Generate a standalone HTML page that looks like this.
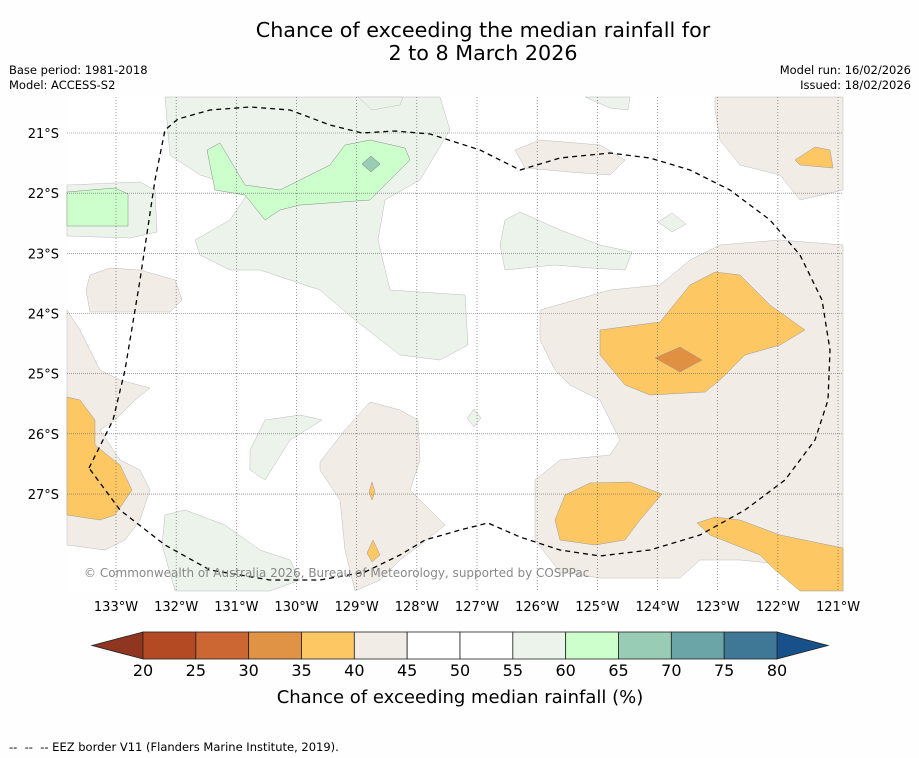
<!DOCTYPE html>
<html><head><meta charset="utf-8">
<style>
html,body{margin:0;padding:0;background:#fdfefd;}
body{width:919px;height:758px;position:relative;overflow:hidden;font-family:"DejaVu Sans","Liberation Sans",sans-serif;}
.t{position:absolute;color:#000;}
</style></head>
<body>
<div class="t" style="left:0;width:966px;top:19px;text-align:center;font-size:20.7px;line-height:23px;">Chance of exceeding the median rainfall for<br>2 to 8 March 2026</div>
<div class="t" style="left:9px;top:63px;font-size:11.5px;line-height:15px;">Base period: 1981-2018<br>Model: ACCESS-S2</div>
<div class="t" style="right:8px;top:63px;font-size:11.5px;line-height:15px;text-align:right;">Model run: 16/02/2026<br>Issued: 18/02/2026</div>
<div class="t" style="left:9px;top:740px;font-size:11.5px;">--&nbsp; --&nbsp; -- EEZ border V11 (Flanders Marine Institute, 2019).</div>

<svg width="919" height="758" style="position:absolute;left:0;top:0" xmlns="http://www.w3.org/2000/svg" font-family="DejaVu Sans, sans-serif">
<g>
<rect x="67" y="97" width="776" height="494" fill="#ffffff"/>
<g fill="#f2ece7" stroke="#bbb" stroke-width="0.5">
<path d="M540,310 L575,300 L610,290 L660,285 L690,260 L720,245 L780,240 L843,245 L843,591 L810,580 L790,565 L740,560 L700,560 L680,578 L600,578 L560,572 L535,540 L535,480 L560,460 L610,455 L620,440 L600,400 L570,385 L555,370 L540,340 Z"/>
<path d="M715,97 L843,97 L843,190 L800,200 L780,175 L740,165 L720,140 L715,110 Z"/>
<path d="M515,150 L540,140 L600,145 L625,160 L610,175 L570,172 L525,168 Z"/>
<path d="M90,275 L110,268 L140,270 L175,280 L182,300 L170,312 L90,312 L86,290 Z"/>
<path d="M67,310 L80,330 L100,370 L120,380 L150,388 L135,400 L115,420 L100,430 L120,460 L140,470 L150,490 L140,520 L125,540 L105,550 L67,545 Z"/>
<path d="M320,462 L345,430 L370,402 L400,410 L418,420 L420,460 L410,490 L430,510 L445,525 L420,545 L400,560 L380,580 L355,591 L345,550 L340,500 L320,470 Z"/>
</g>
<g fill="#ebf3eb" stroke="#bbb" stroke-width="0.5">
<path d="M165,97 L440,97 L450,130 L420,180 L385,200 L378,240 L390,290 L465,295 L468,345 L440,360 L400,355 L355,320 L320,290 L290,280 L260,270 L230,270 L200,255 L195,240 L230,220 L250,190 L200,175 L170,155 Z"/>
<path d="M67,185 L140,182 L155,190 L157,232 L130,238 L67,236 Z"/>
<path d="M505,220 L520,212 L560,230 L600,245 L632,252 L625,270 L590,268 L555,265 L505,270 L500,245 Z"/>
<path d="M658,222 L672,213 L686,224 L672,232 Z"/>
<path d="M250,450 L265,420 L300,415 L322,420 L290,440 L265,480 L250,470 Z"/>
<path d="M165,515 L185,510 L225,525 L260,550 L290,560 L300,580 L270,591 L175,591 L162,545 Z"/>
<path d="M358,97 L403,97 L400,105 L372,110 Z"/>
<path d="M585,97 L630,97 L628,110 L610,108 Z"/>
<path d="M467,418 L474,409 L481,418 L474,427 Z"/>
</g>
<g fill="#ccffcc" stroke="#888" stroke-width="0.5">
<path d="M207,150 L220,143 L245,185 L280,190 L330,165 L345,145 L370,140 L405,148 L410,160 L370,200 L300,205 L280,210 L265,220 L245,195 L215,190 Z"/>
<path d="M67,192 L115,188 L128,194 L128,226 L67,226 Z"/>
</g>
<path d="M362,164 L371,156 L380,164 L371,172 Z" fill="#99ccb4" stroke="#777" stroke-width="0.5"/>
<g fill="#fdc864" stroke="#999" stroke-width="0.5">
<path d="M600,330 L660,322 L690,285 L715,272 L740,275 L770,305 L805,330 L780,345 L745,355 L720,380 L705,392 L650,395 L625,385 L600,355 Z"/>
<path d="M795,160 L815,147 L830,150 L833,168 L800,165 Z"/>
<path d="M67,397 L80,400 L95,420 L95,445 L120,465 L132,490 L115,515 L100,520 L67,515 Z"/>
<path d="M565,495 L590,483 L630,482 L662,494 L640,520 L625,540 L595,545 L560,540 L555,520 Z"/>
<path d="M697,523 L715,517 L740,520 L780,535 L843,548 L843,591 L800,591 L775,570 L760,555 L735,545 L710,535 Z"/>
<path d="M369,492 L372,482 L375,492 L372,500 Z"/>
<path d="M367,553 L373,540 L380,555 L372,562 Z"/>
</g>
<path d="M655,358 L680,347 L702,360 L680,372 Z" fill="#e09040" stroke="#999" stroke-width="0.5"/>
<g id="grid"></g>
<path d="M89,468 L113,420 L125,370 L140,280 L155,180 L165,130 L178,119 L210,110 L250,107 L290,110 L330,125 L362,133 L395,131 L430,134 L480,150 L520,170 L560,158 L610,153 L650,158 L690,170 L730,190 L770,220 L800,255 L822,300 L830,350 L828,400 L815,440 L785,480 L745,510 L700,535 L650,550 L600,556 L560,550 L520,537 L488,523 L460,530 L425,540 L400,555 L365,572 L320,580 L270,580 L210,570 L165,545 L120,510 Z" fill="none" stroke="#000" stroke-width="1.3" stroke-dasharray="5,4"/>
<text x="84" y="577" font-size="12" fill="#888">© Commonwealth of Australia 2026, Bureau of Meteorology, supported by COSPPac</text>
</g>
<g id="axes"></g>
<g id="cbar"></g>
<text x="460" y="703" font-size="18" text-anchor="middle">Chance of exceeding median rainfall (%)</text>
</svg>

<script>
const lonTicks = [133,132,131,130,129,128,127,126,125,124,123,122,121];
const latTicks = [21,22,23,24,25,26,27];
const cbarLevels = [20,25,30,35,40,45,50,55,60,65,70,75,80];
const cbarColors = ["#b34a24","#cc6633","#e09245","#fdc864","#f2ece7","#ffffff","#ffffff","#ebf3eb","#ccffcc","#99ccb4","#6ca5a7","#3f7896"];
const underColor = "#8f3520", overColor = "#17508a";

const NS="http://www.w3.org/2000/svg";
function xLon(l){return 116+(133-l)*60.17;}
function yLat(l){return 133+(l-21)*60.17;}
function xC(v){return 143+(v-20)*(777-143)/60;}
function mk(tag,attrs,parent){const e=document.createElementNS(NS,tag);for(const k in attrs)e.setAttribute(k,attrs[k]);parent.appendChild(e);return e;}

const grid=document.getElementById('grid'), axes=document.getElementById('axes'), cb=document.getElementById('cbar');
lonTicks.forEach(l=>{
  const x=xLon(l);
  if(x<843){const g=mk('line',{x1:x,x2:x,y1:97,y2:591,stroke:'#555','stroke-width':0.6,'stroke-dasharray':'1,2'},grid);
  
  }
  const t=mk('text',{x:x,y:611,'font-size':13,'text-anchor':'middle'},axes);
  t.textContent=l+'°W';
  
  
});
latTicks.forEach(l=>{
  const y=yLat(l);
  const g=mk('line',{x1:67,x2:843,y1:y,y2:y,stroke:'#666','stroke-width':0.6,'stroke-dasharray':'1,1'},grid);
  
  
  const t=mk('text',{x:59,y:y+5,'font-size':13,'text-anchor':'end'},axes);
  t.textContent=l+'°S';
  
  
});
const y0=632,y1=659;
const tl=mk('polygon',{points:`${xC(20)},${y0} ${xC(20)},${y1} 92,645.5`,fill:underColor,stroke:'#222','stroke-width':0.8},cb);


const tr=mk('polygon',{points:`${xC(80)},${y0} ${xC(80)},${y1} 828,645.5`,fill:overColor,stroke:'#222','stroke-width':0.8},cb);


cbarColors.forEach((c,i)=>{
  const a=xC(cbarLevels[i]),b=xC(cbarLevels[i+1]);
  const r=mk('rect',{x:a,y:y0,width:b-a,height:y1-y0,fill:c,stroke:'#222','stroke-width':0.8},cb);
  
  
});
cbarLevels.forEach(v=>{
  const t=mk('text',{x:xC(v),y:676,'font-size':16,'text-anchor':'middle'},cb);
  t.textContent=v;
  
  
});
</script>
</body></html>
